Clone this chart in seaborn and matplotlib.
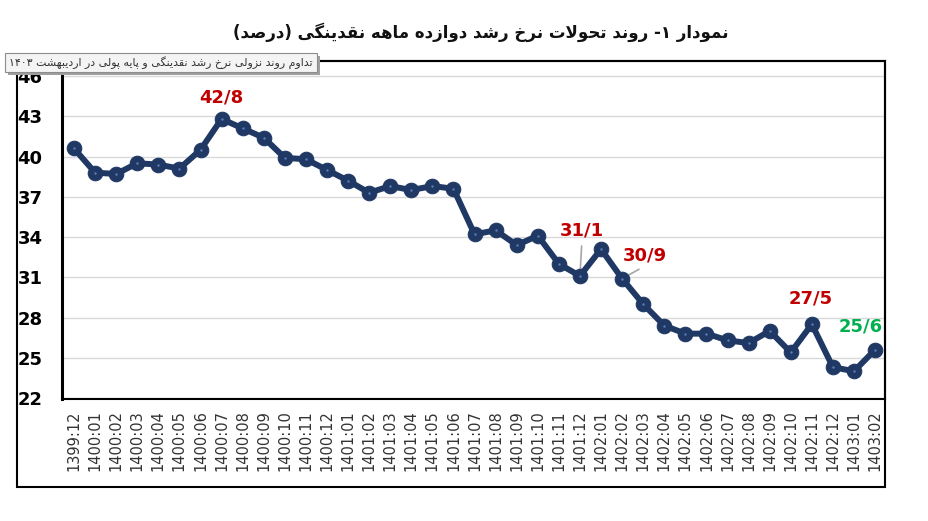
import re
import numpy as np
import pandas as pd
import seaborn as sns
import matplotlib
matplotlib.use("Agg")
import matplotlib.pyplot as plt
from matplotlib.patches import Rectangle

# ---------------- data ----------------
months = ["1399:12",
          "1400:01", "1400:02", "1400:03", "1400:04", "1400:05", "1400:06",
          "1400:07", "1400:08", "1400:09", "1400:10", "1400:11", "1400:12",
          "1401:01", "1401:02", "1401:03", "1401:04", "1401:05", "1401:06",
          "1401:07", "1401:08", "1401:09", "1401:10", "1401:11", "1401:12",
          "1402:01", "1402:02", "1402:03", "1402:04", "1402:05", "1402:06",
          "1402:07", "1402:08", "1402:09", "1402:10", "1402:11", "1402:12",
          "1403:01", "1403:02"]
growth = [40.6,
          38.8, 38.7, 39.5, 39.4, 39.1, 40.5,
          42.8, 42.1, 41.4, 39.9, 39.8, 39.0,
          38.2, 37.3, 37.8, 37.5, 37.8, 37.6,
          34.2, 34.5, 33.4, 34.1, 32.0, 31.1,
          33.1, 30.9, 29.0, 27.4, 26.8, 26.8,
          26.3, 26.1, 27.0, 25.4, 27.5, 24.3,
          24.0, 25.6]
y_ticks = [22, 25, 28, 31, 34, 37, 40, 43, 46]
note_idx = [7, 24, 26, 35, 38]
note_text = ["42/8", "31/1", "30/9", "27/5", "25/6"]
title_fa = "نمودار ۱- روند تحولات نرخ رشد دوازده ماهه نقدینگی (درصد)"
box_fa = "تداوم روند نزولی نرخ رشد نقدینگی و پایه پولی در اردیبهشت ۱۴۰۳"

# ---------------- minimal Arabic-script shaping ----------------
FORMS = {
    '\u0627': ('\uFE8D', '\uFE8E', None, None),
    '\u0628': ('\uFE8F', '\uFE90', '\uFE91', '\uFE92'),
    '\u067E': ('\uFB56', '\uFB57', '\uFB58', '\uFB59'),
    '\u062A': ('\uFE95', '\uFE96', '\uFE97', '\uFE98'),
    '\u062D': ('\uFEA1', '\uFEA2', '\uFEA3', '\uFEA4'),
    '\u062E': ('\uFEA5', '\uFEA6', '\uFEA7', '\uFEA8'),
    '\u062F': ('\uFEA9', '\uFEAA', None, None),
    '\u0631': ('\uFEAD', '\uFEAE', None, None),
    '\u0632': ('\uFEAF', '\uFEB0', None, None),
    '\u0634': ('\uFEB5', '\uFEB6', '\uFEB7', '\uFEB8'),
    '\u0635': ('\uFEB9', '\uFEBA', '\uFEBB', '\uFEBC'),
    '\u0642': ('\uFED5', '\uFED6', '\uFED7', '\uFED8'),
    '\u0644': ('\uFEDD', '\uFEDE', '\uFEDF', '\uFEE0'),
    '\u0645': ('\uFEE1', '\uFEE2', '\uFEE3', '\uFEE4'),
    '\u0646': ('\uFEE5', '\uFEE6', '\uFEE7', '\uFEE8'),
    '\u0647': ('\uFEE9', '\uFEEA', '\uFEEB', '\uFEEC'),
    '\u0648': ('\uFEED', '\uFEEE', None, None),
    '\u06CC': ('\uFBFC', '\uFBFD', '\uFBFE', '\uFBFF'),
    '\u06AF': ('\uFB92', '\uFB93', '\uFB94', '\uFB95'),
    '\u06A9': ('\uFB8E', '\uFB8F', '\uFB90', '\uFB91'),
}


def shape_text(s):
    res = []
    i, n = 0, len(s)
    prev_joins = False
    while i < n:
        c = s[i]
        if c == '\u0644' and i + 1 < n and s[i + 1] == '\u0627':
            res.append('\uFEFC' if prev_joins else '\uFEFB')
            prev_joins = False
            i += 2
            continue
        if c in FORMS:
            iso, fin, ini, med = FORMS[c]
            nxt = s[i + 1] if i + 1 < n else ''
            can_fwd = ini is not None and nxt in FORMS
            if prev_joins and can_fwd:
                g = med
            elif prev_joins:
                g = fin
            elif can_fwd:
                g = ini
            else:
                g = iso
            res.append(g)
            prev_joins = can_fwd
        else:
            res.append(c)
            prev_joins = False
        i += 1
    return ''.join(res)


def rtl(s):
    shaped = shape_text(s)
    runs = re.findall(r'[0-9\u06F0-\u06F9]+|[^0-9\u06F0-\u06F9]+', shaped)
    out = []
    for r in reversed(runs):
        if r[0].isdigit():
            out.append(r)
        else:
            out.append(r[::-1].translate(str.maketrans('()', ')(')))
    return ''.join(out)


# ---------------- plot ----------------
sns.set_theme(style="white")
plt.rcParams['font.family'] = ['DejaVu Sans']

W, H = 929, 521
fig = plt.figure(figsize=(W / 100, H / 100), dpi=100)
fig.patch.set_facecolor("white")

axl, axr, axt, axb = 62, 885, 61, 399
ax = fig.add_axes([axl / W, 1 - axb / H, (axr - axl) / W, (axb - axt) / H])

df = pd.DataFrame({"idx": np.arange(len(months)), "growth": growth})
navy = "#1F3864"
sns.lineplot(data=df, x="idx", y="growth", ax=ax, color=navy, linewidth=4.3,
             marker="o", markersize=10.5, markerfacecolor=navy,
             markeredgecolor=navy, zorder=3)
sns.scatterplot(data=df, x="idx", y="growth", ax=ax, color="#5A7DBA", s=3,
                linewidth=0, zorder=4)

ax.set_xlim(-0.57, len(months) - 1 + 0.47)
ax.set_ylim(21.93, 47.12)
ax.set_yticks(y_ticks)
ax.set_yticklabels([str(t) for t in y_ticks], fontsize=13, fontweight="bold",
                   color="black")
ax.set_xticks(np.arange(len(months)))
ax.set_xticklabels(months, rotation=90, fontsize=10.5, color="#333333")
ax.tick_params(axis="y", length=0, pad=14)
ax.tick_params(axis="x", length=0, pad=8)
ax.set_xlabel("")
ax.set_ylabel("")
ax.grid(axis="y", color="#D9D9D9", linewidth=1)
ax.set_axisbelow(True)
for side in ["top", "right", "bottom"]:
    ax.spines[side].set_color("black")
    ax.spines[side].set_linewidth(1.5)
ax.spines["left"].set_color("black")
ax.spines["left"].set_linewidth(2.2)

# data annotations
offsets = {7: (0, 21), 24: (2, 45), 26: (23, 23), 35: (-1, 26), 38: (-14, 23)}
colors = {7: "#C00000", 24: "#C00000", 26: "#C00000", 35: "#C00000", 38: "#00B050"}
relpos = {24: (0.5, 0.0), 26: (0.55, 0.0)}
for i, t in zip(note_idx, note_text):
    dx, dy = offsets[i]
    arrow = None
    if i in relpos:
        arrow = dict(arrowstyle="-", color="#A6A6A6", lw=1.2, shrinkA=2,
                     shrinkB=2, relpos=relpos[i])
    ax.annotate(t, xy=(i, growth[i]), xytext=(dx, dy), textcoords="offset pixels",
                ha="center", va="center", fontsize=13, fontweight="bold",
                color=colors[i], arrowprops=arrow, zorder=2.5)

# outer frame
fig.add_artist(Rectangle((17 / W, 1 - 487 / H), (885 - 17) / W, (487 - 61) / H,
                         transform=fig.transFigure, fill=False,
                         edgecolor="black", linewidth=1.5, zorder=1))

# title
fig.text(481 / W, 1 - 32 / H, rtl(title_fa), ha="center", va="center",
         fontsize=12, fontweight="bold", color="#111111")

# note box (with shadow)
fig.add_artist(Rectangle((8 / W, 1 - 75 / H), 312 / W, 19 / H,
                         transform=fig.transFigure, facecolor="#A0A0A0",
                         edgecolor="none", zorder=6))
fig.add_artist(Rectangle((5 / W, 1 - 72 / H), 312 / W, 19 / H,
                         transform=fig.transFigure, facecolor="#F4F4F4",
                         edgecolor="#8C8C8C", linewidth=0.8, zorder=7))
fig.text(161 / W, 1 - 63 / H, rtl(box_fa), ha="center", va="center",
         fontsize=7.9, color="#333333", zorder=8)

fig.savefig("out.png", dpi=100, facecolor="white")
